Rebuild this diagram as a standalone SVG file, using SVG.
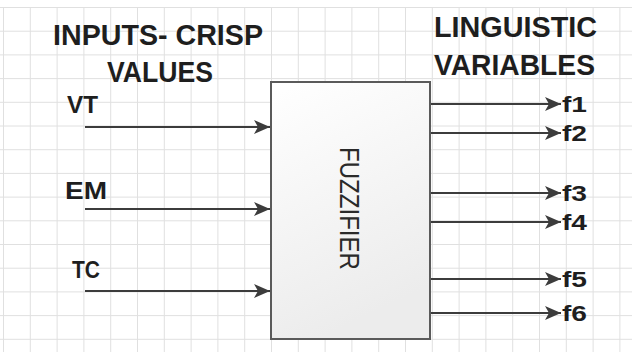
<svg xmlns="http://www.w3.org/2000/svg" width="632" height="352" viewBox="0 0 632 352">
<style>
.grid{stroke:#e0e0e0;stroke-width:1;fill:none}
.lbl{font-family:"Liberation Sans",Arial,sans-serif;font-weight:bold;fill:#1e1e1e}
.edge{stroke:#3c3c3c;stroke-width:2;fill:none;marker-end:url(#ah)}
</style>
<defs>
<marker id="ah" markerUnits="userSpaceOnUse" markerWidth="16" markerHeight="14" refX="16" refY="7" orient="auto" viewBox="0 0 16 14">
<path d="M0,0 L16,7 L0,14 L4,7 z" fill="#3c3c3c"/>
</marker>
<linearGradient id="bg" x1="0" y1="0" x2="0.3" y2="1">
<stop offset="0" stop-color="#ffffff"/>
<stop offset="1" stop-color="#ececec"/>
</linearGradient>
</defs>
<rect width="632" height="352" fill="#fff"/>
<g id="grid" class="grid">
<path d="M3.5,7V352M30.3,7V352M57.1,7V352M83.9,7V352M110.7,7V352M137.5,7V352M164.3,7V352M191.1,7V352M217.9,7V352M244.7,7V352M271.5,7V352M298.3,7V352M325.1,7V352M351.9,7V352M378.7,7V352M405.5,7V352M432.3,7V352M459.1,7V352M485.9,7V352M512.7,7V352M539.5,7V352M566.3,7V352M593.1,7V352M619.9,7V352"/>
<path d="M0,7.5H632M0,31.2H632M0,54.9H632M0,78.6H632M0,102.3H632M0,126H632M0,149.7H632M0,173.4H632M0,197.1H632M0,220.8H632M0,244.5H632M0,268.2H632M0,291.9H632M0,315.6H632M0,339.3H632"/>
</g>
<g id="titles">
<text class="lbl" x="53" y="45" font-size="29" textLength="210" lengthAdjust="spacingAndGlyphs">INPUTS- CRISP</text>
<text class="lbl" x="107" y="82" font-size="29" textLength="106" lengthAdjust="spacingAndGlyphs">VALUES</text>
<text class="lbl" x="434" y="37" font-size="29" textLength="163" lengthAdjust="spacingAndGlyphs">LINGUISTIC</text>
<text class="lbl" x="434" y="75" font-size="29" textLength="161" lengthAdjust="spacingAndGlyphs">VARIABLES</text>
</g>
<g id="fuzzifier">
<rect x="271" y="82" width="159" height="257" fill="url(#bg)" stroke="#5a5a5a" stroke-width="2"/>
<text x="0" y="0" transform="translate(340,208.5) rotate(90)" text-anchor="middle" font-family="Liberation Sans,Arial,sans-serif" font-size="27" fill="#2a2a2a" textLength="123" lengthAdjust="spacingAndGlyphs">FUZZIFIER</text>
</g>
<g id="inputs">
<text class="lbl" x="67" y="113" font-size="23" textLength="31" lengthAdjust="spacingAndGlyphs">VT</text>
<text class="lbl" x="65" y="199" font-size="23" textLength="42" lengthAdjust="spacingAndGlyphs">EM</text>
<text class="lbl" x="72" y="278" font-size="23" textLength="28" lengthAdjust="spacingAndGlyphs">TC</text>
</g>
<g id="outputs">
<text class="lbl" x="562" y="112" font-size="22" textLength="25" lengthAdjust="spacingAndGlyphs">f1</text>
<text class="lbl" x="562" y="141" font-size="22" textLength="25" lengthAdjust="spacingAndGlyphs">f2</text>
<text class="lbl" x="562" y="201" font-size="22" textLength="25" lengthAdjust="spacingAndGlyphs">f3</text>
<text class="lbl" x="562" y="230" font-size="22" textLength="25" lengthAdjust="spacingAndGlyphs">f4</text>
<text class="lbl" x="562" y="287" font-size="22" textLength="25" lengthAdjust="spacingAndGlyphs">f5</text>
<text class="lbl" x="562" y="321" font-size="22" textLength="25" lengthAdjust="spacingAndGlyphs">f6</text>
</g>
<g id="connectors">
<line class="edge" x1="85" y1="127" x2="270" y2="127"/>
<line class="edge" x1="85" y1="209" x2="270" y2="209"/>
<line class="edge" x1="85" y1="291" x2="270" y2="291"/>
<line class="edge" x1="431" y1="104" x2="561" y2="104"/>
<line class="edge" x1="431" y1="133" x2="561" y2="133"/>
<line class="edge" x1="431" y1="193" x2="561" y2="193"/>
<line class="edge" x1="431" y1="222" x2="561" y2="222"/>
<line class="edge" x1="431" y1="279" x2="561" y2="279"/>
<line class="edge" x1="431" y1="313" x2="561" y2="313"/>
</g>
</svg>
